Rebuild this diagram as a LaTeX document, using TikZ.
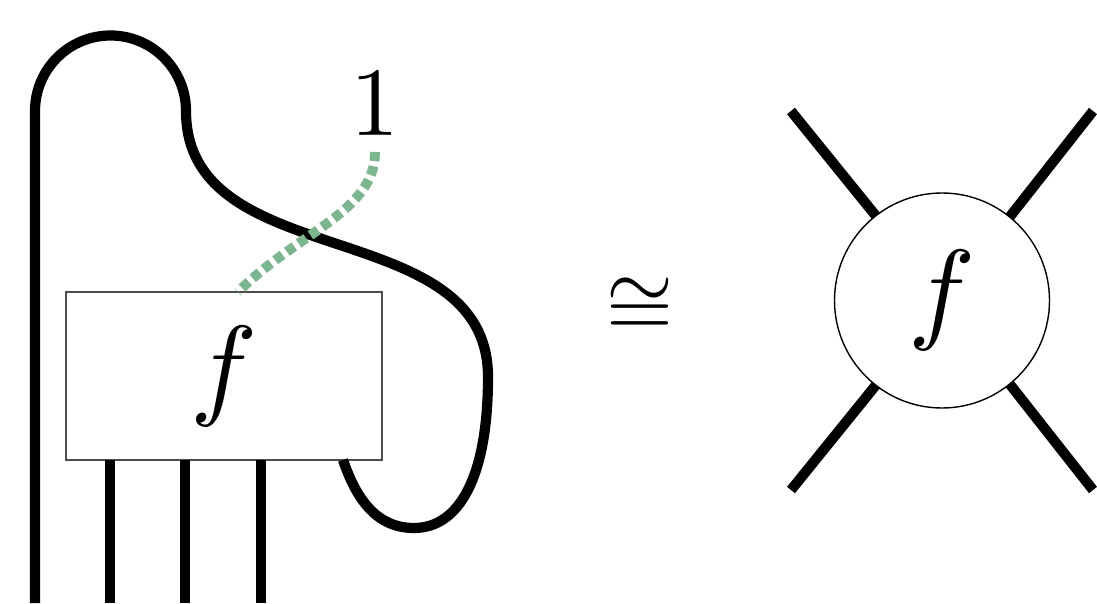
\documentclass[tikz,border=0pt]{standalone}
\usepackage{xcolor}
\usepackage{tikz}
\usetikzlibrary{positioning, calc}
\definecolor{ghostgreen}{RGB}{124,182,142}
\newcommand{\bigf}{\scalebox{3.2}{$f$}}

\begin{document}
\begin{tikzpicture}[
    strand/.style={line width=2.9pt},
    ghost/.style={line width=2.8pt, draw=ghostgreen, dash pattern=on 2.6pt off 1.5pt},
    morph/.style={draw=black!70, line width=0.5pt, fill=white, inner sep=0pt, outer sep=0pt}]
  \useasboundingbox (0,0) rectangle (10.97,6.03);

  % left side: the box f with its bent strands
  \coordinate (leg0) at (0.35,0);
  \coordinate (leg1) at (1.10,0);
  \coordinate (leg2) at (1.85,0);
  \coordinate (leg3) at (2.61,0);
  \node[morph, minimum width=3.16cm, minimum height=1.68cm] (box) at (2.24,2.27) {\bigf};
  \node[inner sep=0pt, anchor=south] (one) at (3.75,4.67) {\scalebox{2.78}{1}};
  \coordinate[below=0.16cm of one.south] (oneend);

  \draw[strand] (leg0) -- (0.35,4.92) arc[start angle=180, end angle=0, radius=0.755]
    .. controls +(0,-1.65) and +(0,1.65) .. (4.88,2.26)
    .. controls +(0,-1.0) and +(0.45,0) .. (4.14,0.75)
    .. controls +(-0.4,0) and +(0.12,-0.35) .. ($(box.south east)+(-0.39,0)$);
  \foreach \l in {leg1,leg2,leg3}
    \draw[strand] (box.south -| \l) -- (\l);
  \draw[ghost] (oneend) .. controls +(0,-0.6) and +(0.6,0.6) .. ($(box.north)+(0.14,0)$);

  % right side: the same map as a vertex
  \node (iso) at (6.40,2.96) {\scalebox{2.45}{$\cong$}};
  \node[draw, circle, minimum size=2.15cm, inner sep=0pt, outer sep=0pt, line width=0.4pt] (vert) at (9.42,3.025) {\bigf};
  \coordinate (nw) at (7.91,4.92);
  \coordinate (ne) at (10.93,4.92);
  \coordinate (sw) at (7.91,1.13);
  \coordinate (se) at (10.93,1.13);
  \foreach \a/\c in {128.6/nw, 51.4/ne, -51.4/se, -128.6/sw}
    \draw[strand] (vert.\a) -- (\c);
\end{tikzpicture}
\end{document}
